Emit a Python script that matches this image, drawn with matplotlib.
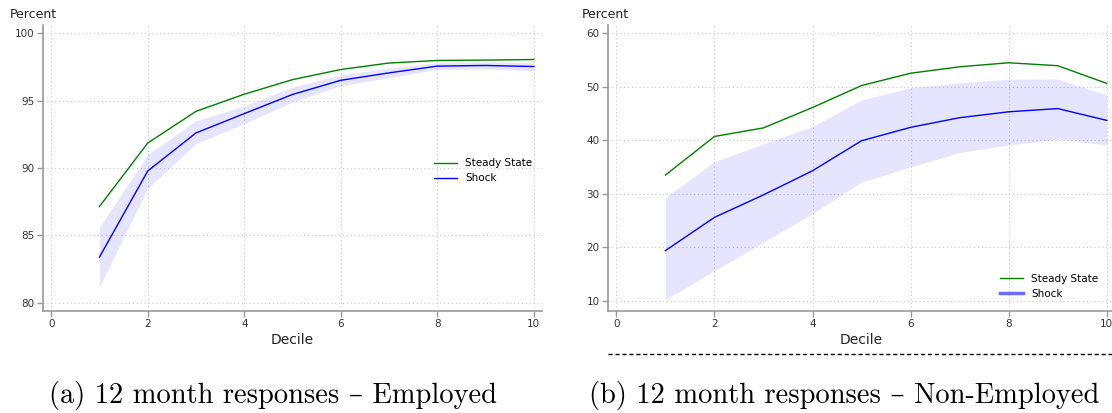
import numpy as np
import matplotlib.pyplot as plt
from matplotlib.lines import Line2D

deciles = np.arange(1, 11)

# (a) Employed
emp_steady = [87.15, 91.85, 94.2, 95.47, 96.55, 97.3, 97.78, 97.97, 98.0, 98.04]
emp_shock = [83.4, 89.78, 92.6, 94.03, 95.45, 96.5, 97.05, 97.55, 97.6, 97.52]
emp_lo = [81.2, 88.5, 91.8, 93.3, 94.9, 96.1, 96.7, 97.3, 97.35, 97.2]
emp_hi = [85.6, 91.0, 93.5, 94.6, 96.0, 96.9, 97.4, 97.8, 97.85, 97.8]

# (b) Non-Employed
non_steady = [33.5, 40.7, 42.3, 46.1, 50.2, 52.5, 53.7, 54.45, 53.9, 50.6]
non_shock = [19.4, 25.6, 29.8, 34.3, 39.9, 42.4, 44.2, 45.3, 45.9, 43.7]
non_lo = [10.3, 15.6, 21.0, 26.3, 32.2, 35.0, 37.7, 39.1, 40.2, 39.1]
non_hi = [29.3, 36.0, 39.3, 42.6, 47.5, 49.8, 50.7, 51.4, 51.4, 48.5]

xticks = [0, 2, 4, 6, 8, 10]
emp_yticks = [80, 85, 90, 95, 100]
non_yticks = [10, 20, 30, 40, 50, 60]

captions = ["(a) 12 month responses \u2013 Employed",
            "(b) 12 month responses \u2013 Non-Employed"]

fig = plt.figure(figsize=(11.12, 4.13), dpi=100)
ax1 = fig.add_axes([0.0387, 0.247, 0.4487, 0.6925])
ax2 = fig.add_axes([0.5468, 0.247, 0.4560, 0.6925])


def style(ax, yticks, ylim):
    ax.set_xlim(-0.17, 10.17)
    ax.set_ylim(*ylim)
    ax.set_xticks(xticks)
    ax.set_yticks(yticks)
    ax.grid(True, linestyle=(0, (1, 2.5)), color='#c8c8c8', linewidth=0.8)
    ax.set_axisbelow(True)
    for s in ['top', 'right']:
        ax.spines[s].set_visible(False)
    for s in ['left', 'bottom']:
        ax.spines[s].set_color('#999999')
        ax.spines[s].set_linewidth(1.2)
    ax.tick_params(colors='#999999', labelcolor='#333333', labelsize=7.5,
                   length=4, width=1, pad=2)
    ax.set_xlabel('Decile', fontsize=10, color='#222222', labelpad=3)


style(ax1, emp_yticks, (79.4, 100.6))
style(ax2, non_yticks, (8.13, 61.5))

ax1.fill_between(deciles, emp_lo, emp_hi, color='blue', alpha=0.1, lw=0)
ax1.plot(deciles, emp_steady, color='green', lw=1, label='Steady State')
ax1.plot(deciles, emp_shock, color='blue', lw=1, label='Shock')
ax1.legend(loc='center right', bbox_to_anchor=(1.0, 0.49), frameon=False,
           fontsize=7.5, handlelength=2.2, handletextpad=0.8, labelspacing=0.5)

ax2.fill_between(deciles, non_lo, non_hi, color='blue', alpha=0.1, lw=0)
ax2.plot(deciles, non_steady, color='green', lw=1)
ax2.plot(deciles, non_shock, color='blue', lw=1)
handles = [Line2D([], [], color='green', lw=1),
           Line2D([], [], color='#6b6bff', lw=2.5)]
ax2.legend(handles, ['Steady State', 'Shock'], loc='lower right',
           bbox_to_anchor=(0.985, 0.01), frameon=False, fontsize=7.5,
           handlelength=2.2, handletextpad=0.8, labelspacing=0.5)

fig.text(10 / 1112, 1 - 15 / 413, 'Percent', fontsize=9, color='#222222', va='center')
fig.text(582 / 1112, 1 - 15 / 413, 'Percent', fontsize=9, color='#222222', va='center')

# dashed rule under the right panel
fig.add_artist(Line2D([608 / 1112, 1.0], [1 - 354 / 413] * 2, color='black',
                      lw=1, linestyle=(0, (3, 2))))

fig.text(273 / 1112, 1 - 396 / 413, captions[0], family=['cmr10', 'DejaVu Serif'],
         fontsize=20.5, ha='center', va='center')
fig.text(844 / 1112, 1 - 396 / 413, captions[1], family=['cmr10', 'DejaVu Serif'],
         fontsize=20.5, ha='center', va='center')

fig.savefig('out.png', dpi=100)
